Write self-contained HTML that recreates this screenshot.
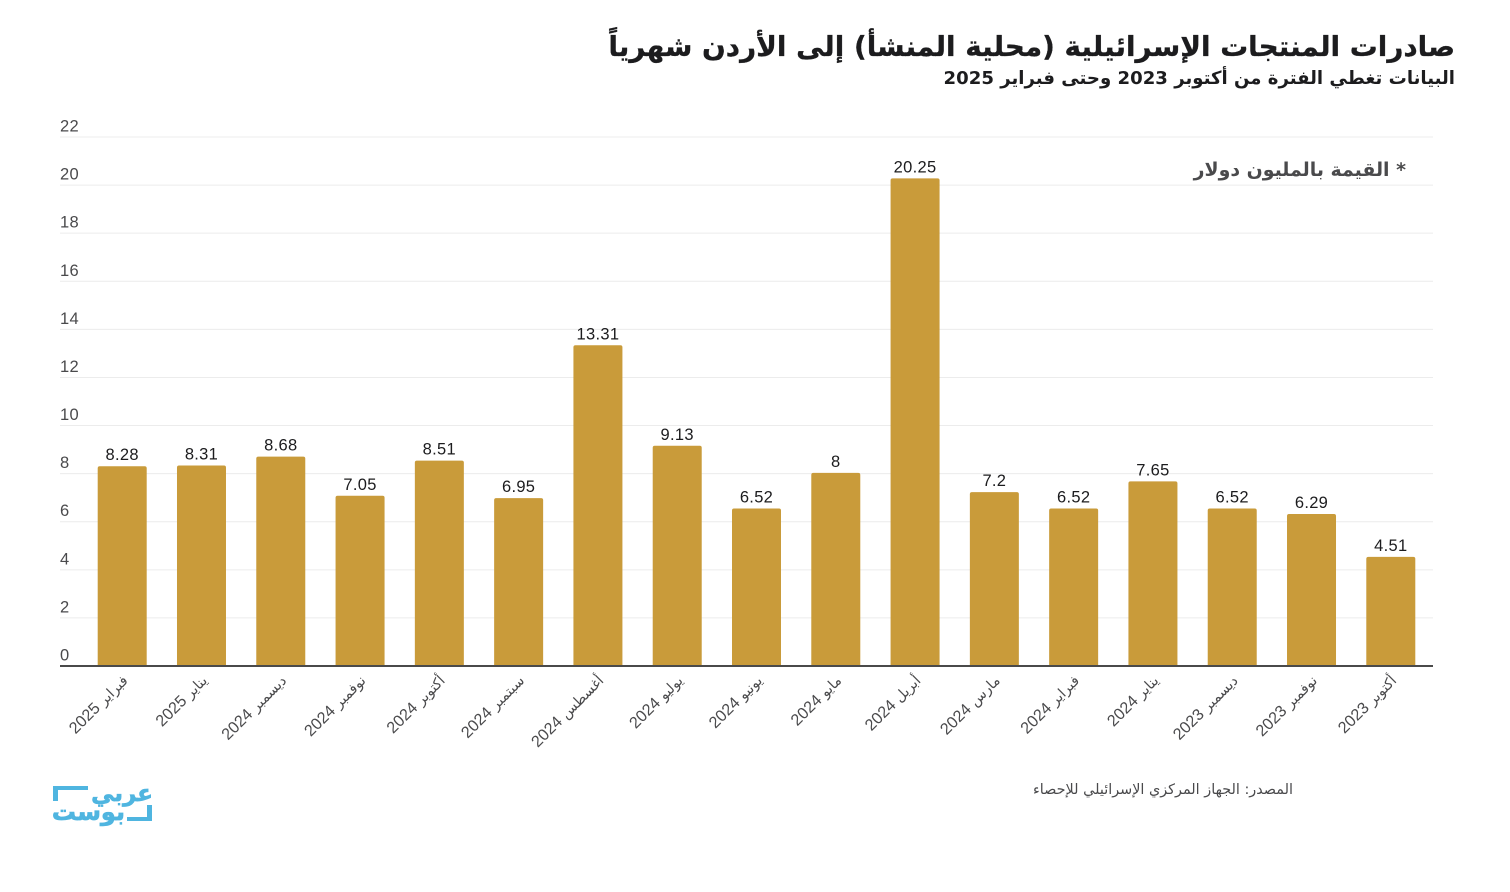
<!DOCTYPE html>
<html lang="ar">
<head>
<meta charset="utf-8">
<title>صادرات المنتجات الإسرائيلية</title>
<style>
html,body{margin:0;padding:0;background:#fff;width:1510px;height:892px;overflow:hidden}
svg{display:block;position:absolute;left:0;top:0}
.ar{font-family:"DejaVu Sans","Liberation Sans",sans-serif}
.num{font-family:"Liberation Sans",sans-serif}
</style>
</head>
<body>
<svg id="chart" width="1510" height="892" viewBox="0 0 1510 892" xmlns="http://www.w3.org/2000/svg">
  <text class="ar" x="1455" y="56" direction="rtl" text-anchor="start" font-size="27.85" font-weight="700" fill="#1c1c1e" stroke="#1c1c1e" stroke-width="0.3">صادرات المنتجات الإسرائيلية (محلية المنشأ) إلى الأردن شهرياً</text>
  <text class="ar" x="1455" y="84" direction="rtl" text-anchor="start" font-size="18.1" font-weight="700" fill="#1c1c1e">البيانات تغطي الفترة من أكتوبر 2023 وحتى فبراير 2025</text>
  <g id="grid"></g>
  <g id="bars"></g>
  <g id="xlabels"></g>
  <text class="ar" x="1406" y="176" direction="rtl" text-anchor="start" font-size="18.9" font-weight="700" fill="#4a4a4c">* القيمة بالمليون دولار</text>
  <text class="ar" x="1293" y="794" direction="rtl" text-anchor="start" font-size="14.4" fill="#4a4a4c">المصدر: الجهاز المركزي الإسرائيلي للإحصاء</text>
  <g>
    <path d="M53 801V786H88V790H58V801Z" fill="#4fb5e0"/>
    <path d="M152 805V821H127V817H147V805Z" fill="#4fb5e0"/>
    <text class="ar" x="153" y="801" direction="rtl" text-anchor="start" font-size="23" font-weight="700" fill="#4fb5e0" stroke="#4fb5e0" stroke-width="0.7">عربي</text>
    <text class="ar" x="125" y="820" direction="rtl" text-anchor="start" font-size="24" font-weight="700" fill="#4fb5e0" stroke="#4fb5e0" stroke-width="0.7">بوست</text>
  </g>
</svg>
<script>
const categories = ["فبراير 2025","يناير 2025","ديسمبر 2024","نوفمبر 2024","أكتوبر 2024","سبتمبر 2024","أغسطس 2024","يوليو 2024","يونيو 2024","مايو 2024","أبريل 2024","مارس 2024","فبراير 2024","يناير 2024","ديسمبر 2023","نوفمبر 2023","أكتوبر 2023"];
const seriesValues = [8.28,8.31,8.68,7.05,8.51,6.95,13.31,9.13,6.52,8,20.25,7.2,6.52,7.65,6.52,6.29,4.51];
const yTicks = [0,2,4,6,8,10,12,14,16,18,20,22];

const NS = "http://www.w3.org/2000/svg";
const plot = {left:60, right:1433, base:666, top:137, firstCenter:122.2, lastCenter:1390.8, barW:49, yMax:22};
const yScale = v => plot.base - (v / plot.yMax) * (plot.base - plot.top);
const xScale = i => plot.firstCenter + i * (plot.lastCenter - plot.firstCenter) / (categories.length - 1);
function make(tag, attrs, parent, text){
  const el = document.createElementNS(NS, tag);
  for (const k in attrs) el.setAttribute(k, attrs[k]);
  if (text !== undefined) el.textContent = text;
  parent.appendChild(el);
  return el;
}
const grid = document.getElementById('grid');
const barsG = document.getElementById('bars');
const labelsG = document.getElementById('xlabels');

yTicks.forEach(t => {
  const y = yScale(t);
  if (t !== 0) {
    const line = make('line', {x1:plot.left, x2:plot.right, y1:y, y2:y, stroke:'#ececec', 'stroke-width':1}, grid);
    
    
  }
  const lab = make('text', {x:60, y:y-5.5, 'font-size':16.5, 'letter-spacing':0.3, fill:'#4a4a4c', class:'num'}, grid, String(t));
  
  
});

seriesValues.forEach((v, i) => {
  const cx = xScale(i), y = yScale(v) - 0.7, w = plot.barW, r = 2;
  const bar = make('path', {
    d:`M${cx-w/2} ${plot.base}V${y+r}Q${cx-w/2} ${y} ${cx-w/2+r} ${y}H${cx+w/2-r}Q${cx+w/2} ${y} ${cx+w/2} ${y+r}V${plot.base}Z`,
    fill:'#c99b3a'
  }, barsG);
  
  
  const val = make('text', {x:cx, y:y-6, 'text-anchor':'middle', 'font-size':16.5, 'letter-spacing':0.3, fill:'#1c1c1e', class:'num'}, barsG, String(v));
  
  
  const tx = cx + 6.5, ty = 681.5;
  const parts = categories[i].split(' ');
  const lab = make('text', {
    x:tx, y:ty, direction:'rtl', 'text-anchor':'start', fill:'#4a4a4c', class:'ar',
    transform:`rotate(-45 ${tx} ${ty})`
  }, labelsG);
  
  
  make('tspan', {'font-size':14.2}, lab, parts[0] + ' ');
  make('tspan', {'font-size':16.2, class:'num'}, lab, parts[1]);
});

const axis = make('line', {x1:plot.left, x2:plot.right, y1:plot.base, y2:plot.base, stroke:'#4a4a4a', 'stroke-width':2}, barsG);


</script>
</body>
</html>
